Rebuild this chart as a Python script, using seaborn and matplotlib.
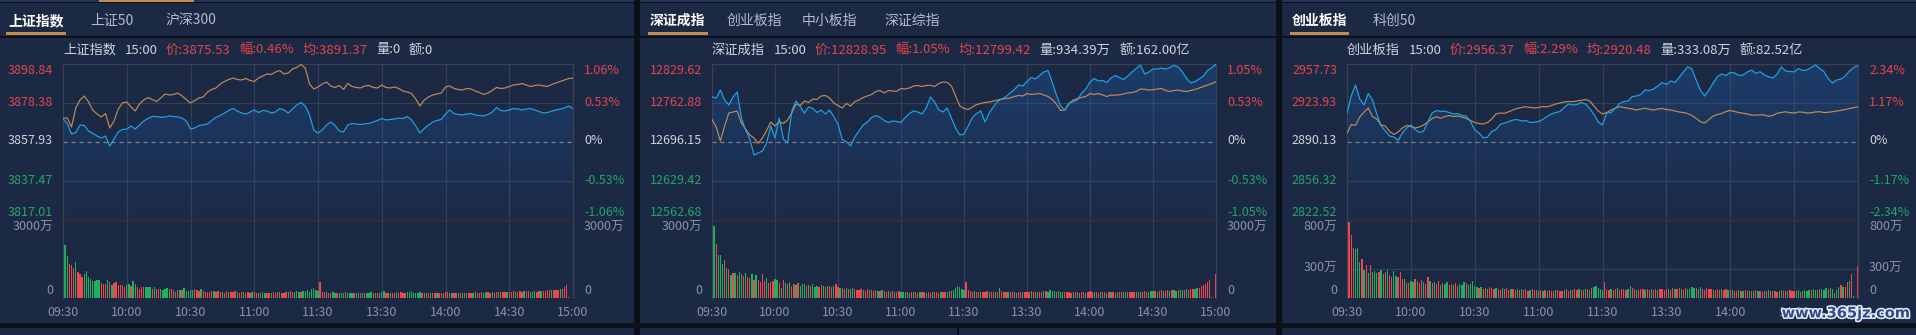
import numpy as np
import matplotlib
matplotlib.use("Agg")
import matplotlib.pyplot as plt
import seaborn as sns
from matplotlib.patches import Rectangle, Polygon
import matplotlib.patheffects as pe

sns.set_theme(style="dark")
plt.rcParams['font.family'] = ['Noto Sans CJK SC', 'DejaVu Sans']
plt.rcParams['axes.unicode_minus'] = False

# ---------------- data ----------------
time_labels = ["09:30", "10:00", "10:30", "11:00", "11:30", "13:30", "14:00", "14:30", "15:00"]

# panel 1 : 上证指数
p1_tabs = ["上证指数", "上证50", "沪深300"]
p1_name = "上证指数"
p1_prev = 3857.93
p1_left_ticks = ["3898.84", "3878.38", "3857.93", "3837.47", "3817.01"]
p1_right_ticks = ["1.06%", "0.53%", "0%", "-0.53%", "-1.06%"]
p1_vol_ticks = ["3000万", "0"]
p1_vol_max = 3000
p1_qty = "0"
p1_amt = "0"
p1_price = [
    3870.00, 3867.64, 3862.13, 3862.91, 3866.85, 3866.59, 3863.70, 3862.49, 3861.08, 3860.03,
    3861.08, 3855.83, 3859.50, 3863.18, 3864.49, 3864.75, 3866.32, 3864.75, 3866.85, 3868.95,
    3870.26, 3871.31, 3871.31, 3870.90, 3871.05, 3871.57, 3871.31, 3871.05, 3870.52, 3868.95,
    3864.75, 3865.30, 3866.59, 3866.85, 3867.37, 3869.21, 3870.78, 3871.83, 3873.14, 3874.45,
    3875.50, 3874.19, 3873.14, 3872.62, 3873.67, 3874.72, 3873.41, 3874.45, 3874.19, 3873.14,
    3873.67, 3875.50, 3874.72, 3873.14, 3875.24, 3877.34, 3878.65, 3876.82, 3872.09, 3864.23,
    3862.65, 3864.23, 3866.85, 3868.42, 3866.59, 3863.70, 3863.18, 3866.85, 3867.64, 3867.37,
    3867.10, 3867.50, 3867.64, 3868.42, 3869.21, 3870.26, 3869.47, 3869.73, 3870.00, 3870.52,
    3870.20, 3871.31, 3869.47, 3866.32, 3862.65, 3865.01, 3866.85, 3868.42, 3869.21, 3869.73,
    3872.62, 3874.72, 3872.88, 3872.36, 3872.09, 3872.62, 3872.88, 3872.09, 3871.83, 3871.57,
    3872.36, 3873.67, 3876.03, 3874.45, 3874.20, 3874.72, 3875.50, 3875.24, 3874.72, 3875.24,
    3875.50, 3874.72, 3873.93, 3873.14, 3873.40, 3874.19, 3874.72, 3875.24, 3875.77, 3876.82,
    3875.53]
p1_avg = [
    3870.36, 3870.52, 3865.80, 3875.77, 3879.96, 3882.06, 3878.91, 3874.72, 3872.62, 3871.05,
    3872.88, 3865.27, 3868.95, 3875.24, 3878.39, 3878.91, 3876.29, 3874.19, 3877.86, 3879.96,
    3881.27, 3880.23, 3879.18, 3881.01, 3883.11, 3882.59, 3882.85, 3883.64, 3882.06, 3880.23,
    3878.39, 3879.70, 3881.01, 3881.54, 3884.16, 3885.47, 3886.26, 3888.36, 3889.67, 3890.72,
    3891.50, 3890.72, 3890.46, 3891.24, 3890.19, 3889.67, 3891.50, 3892.55, 3893.60, 3893.34,
    3894.65, 3895.44, 3893.60, 3894.13, 3896.23, 3897.01, 3898.59, 3896.75, 3888.36, 3885.73,
    3886.78, 3888.36, 3889.41, 3887.31, 3886.52, 3887.57, 3885.47, 3888.62, 3887.05, 3886.52,
    3886.26, 3887.31, 3887.57, 3886.52, 3886.26, 3887.83, 3886.52, 3886.26, 3886.78, 3886.00,
    3884.68, 3884.16, 3883.37, 3880.49, 3876.82, 3879.96, 3881.54, 3882.59, 3883.11, 3883.64,
    3886.78, 3887.31, 3886.00, 3885.47, 3885.21, 3886.00, 3885.73, 3884.68, 3883.90, 3882.85,
    3883.64, 3884.95, 3886.52, 3886.00, 3886.26, 3887.05, 3887.83, 3888.09, 3888.62, 3887.83,
    3887.05, 3887.57, 3887.83, 3887.31, 3887.05, 3888.09, 3888.88, 3889.67, 3890.46, 3891.24,
    3891.37]
p1_vol = [
    730, 2025, 1615, 1295, 1270, 1165, 1385, 1015, 935, 810,
    935, 1040, 810, 720, 655, 655, 680, 690, 590, 550,
    540, 680, 615, 515, 590, 615, 485, 500, 515, 410,
    500, 550, 460, 655, 540, 435, 360, 410, 435, 435,
    435, 435, 345, 425, 345, 345, 345, 310, 345, 385,
    335, 335, 310, 230, 310, 310, 310, 370, 270, 270,
    295, 295, 360, 310, 270, 345, 270, 245, 245, 245,
    255, 270, 220, 255, 250, 240, 210, 260, 230, 220,
    250, 270, 230, 210, 240, 220, 200, 230, 210, 240,
    220, 200, 190, 210, 230, 200, 180, 210, 190, 220,
    200, 230, 250, 210, 190, 220, 240, 260, 230, 250,
    270, 240, 220, 260, 280, 300, 250, 340, 380, 310,
    260, 600, 240, 220, 230, 200, 210, 220, 190, 200,
    210, 200, 190, 220, 200, 210, 180, 200, 190, 210,
    200, 190, 210, 180, 200, 220, 190, 210, 200, 180,
    230, 270, 200, 190, 210, 180, 200, 220, 190, 230,
    210, 200, 240, 220, 260, 190, 200, 210, 230, 200,
    190, 210, 200, 180, 200, 190, 210, 200, 180, 200,
    250, 220, 200, 210, 190, 200, 180, 210, 200, 190,
    200, 210, 180, 200, 220, 190, 210, 230, 200, 220,
    230, 210, 240, 200, 220, 250, 230, 240, 220, 250,
    250, 240, 260, 250, 240, 260, 250, 270, 260, 270,
    250, 240, 260, 250, 270, 260, 280, 270, 290, 300,
    290, 300, 310, 320, 340, 360, 420, 500, 30, 0,
    0]
p1_dir = ("rggrrrgrrr" "ggggggggrr" "rgrgrrrrrr" "ggrggrrrrg" "ggrgrrgggg"
          "grrgrgrggg" "ggrrrgrrrr" "rgrrrgrrgr" "rrgrrgrrrg" "rrgrggrrgr"
          "rrgrrrgrrg" "ggrggggggg" "grrrgrrggr" "gggrgggrgg" "rgrgggrrgr"
          "ggrrgrrgrr" "rrgggggggr" "grrgrrgrrg" "rrrgrrgrgr" "grrgrgrrgg"
          "rrgrrgrrrg" "rrrgrrrgrr" "gggrrgrrrr" "grrrgrrrgr" "r")

# panel 2 : 深证成指
p2_tabs = ["深证成指", "创业板指", "中小板指", "深证综指"]
p2_name = "深证成指"
p2_prev = 12696.15
p2_left_ticks = ["12829.62", "12762.88", "12696.15", "12629.42", "12562.68"]
p2_right_ticks = ["1.05%", "0.53%", "0%", "-0.53%", "-1.05%"]
p2_vol_ticks = ["3000万", "0"]
p2_vol_max = 3000
p2_qty = "934.39万"
p2_amt = "162.00亿"
p2_price = [
    12773.67, 12771.44, 12785.13, 12768.02, 12759.46, 12773.15, 12781.71, 12737.22, 12716.68, 12701.28,
    12673.90, 12677.33, 12680.75, 12694.44, 12723.53, 12702.99, 12737.22, 12701.28, 12694.44, 12749.20,
    12766.31, 12756.90, 12745.77, 12756.04, 12753.48, 12746.63, 12750.91, 12744.06, 12750.91, 12739.44,
    12726.95, 12700.43, 12696.66, 12689.31, 12704.71, 12714.97, 12725.24, 12730.37, 12738.07, 12741.50,
    12738.07, 12732.94, 12729.52, 12732.09, 12731.23, 12729.52, 12738.07, 12744.92, 12749.20, 12747.49,
    12744.06, 12754.33, 12773.15, 12764.60, 12750.91, 12747.49, 12754.33, 12737.22, 12720.11, 12708.13,
    12709.84, 12723.53, 12738.07, 12744.92, 12749.20, 12730.37, 12745.77, 12756.04, 12765.45, 12769.73,
    12774.01, 12780.00, 12785.99, 12793.69, 12791.98, 12799.68, 12806.52, 12803.96, 12809.94, 12815.93,
    12818.50, 12798.82, 12776.58, 12757.75, 12750.91, 12762.03, 12765.45, 12768.02, 12780.00, 12786.84,
    12798.82, 12804.81, 12800.53, 12801.39, 12797.97, 12805.67, 12809.94, 12806.52, 12803.10, 12809.09,
    12815.93, 12821.92, 12827.91, 12812.51, 12815.93, 12821.07, 12821.07, 12822.78, 12821.07, 12823.63,
    12827.06, 12824.49, 12815.93, 12804.81, 12797.11, 12799.68, 12803.96, 12809.09, 12818.50, 12823.63,
    12828.95]
p2_avg = [
    12734.99, 12721.82, 12697.86, 12723.53, 12745.77, 12747.49, 12749.20, 12728.66, 12718.40, 12708.13,
    12702.99, 12693.93, 12702.99, 12715.83, 12730.37, 12723.53, 12731.23, 12727.81, 12733.80, 12745.77,
    12761.18, 12758.61, 12766.31, 12763.74, 12769.73, 12768.88, 12774.87, 12775.72, 12771.44, 12762.89,
    12758.61, 12754.33, 12762.03, 12757.75, 12765.45, 12768.02, 12772.30, 12774.87, 12777.43, 12782.57,
    12784.28, 12780.00, 12784.28, 12783.42, 12783.00, 12787.70, 12786.84, 12788.55, 12791.98, 12792.83,
    12791.12, 12792.83, 12793.30, 12791.12, 12796.26, 12798.82, 12797.97, 12791.98, 12774.87, 12757.75,
    12753.48, 12751.76, 12756.04, 12760.32, 12762.03, 12763.74, 12764.60, 12766.31, 12768.02, 12769.73,
    12770.59, 12771.44, 12774.01, 12775.72, 12774.87, 12779.14, 12777.43, 12778.29, 12779.14, 12776.58,
    12774.01, 12768.88, 12761.18, 12750.05, 12750.91, 12762.03, 12768.02, 12770.59, 12772.30, 12774.01,
    12779.14, 12777.43, 12779.14, 12776.58, 12774.01, 12776.58, 12776.20, 12776.90, 12778.29, 12780.00,
    12780.85, 12782.57, 12786.84, 12786.30, 12785.13, 12785.60, 12786.84, 12787.70, 12784.28, 12782.57,
    12784.28, 12785.13, 12783.42, 12782.57, 12784.28, 12785.99, 12788.55, 12791.12, 12793.69, 12796.26,
    12799.42]
p2_vol = [
    925, 2755, 2090, 1665, 1665, 1320, 1475, 1155, 1130, 870,
    960, 960, 870, 1000, 925, 835, 960, 795, 770, 925,
    705, 870, 705, 615, 925, 640, 770, 575, 615, 665,
    730, 705, 575, 385, 705, 560, 520, 600, 480, 540,
    500, 560, 470, 520, 540, 450, 500, 470, 520, 430,
    480, 440, 500, 460, 420, 480, 450, 430, 470, 550,
    420, 380, 400, 350, 370, 330, 360, 390, 340, 300,
    320, 350, 300, 280, 330, 290, 310, 270, 300, 280,
    260, 290, 270, 250, 280, 240, 270, 250, 230, 260,
    240, 220, 250, 230, 210, 240, 220, 230, 200, 240,
    220, 230, 210, 240, 200, 220, 250, 230, 210, 240,
    230, 250, 220, 260, 280, 300, 390, 450, 410, 350,
    300, 600, 320, 280, 250, 260, 240, 230, 250, 220,
    240, 260, 230, 220, 250, 240, 220, 385, 260, 240,
    230, 250, 220, 240, 230, 210, 240, 220, 230, 250,
    240, 220, 260, 230, 250, 220, 240, 230, 260, 280,
    250, 320, 280, 260, 240, 270, 230, 250, 240, 220,
    240, 210, 230, 220, 240, 210, 230, 220, 200, 230,
    260, 230, 220, 240, 210, 230, 220, 240, 210, 230,
    220, 240, 210, 230, 220, 240, 250, 230, 220, 240,
    230, 250, 240, 220, 250, 230, 260, 240, 250, 270,
    260, 280, 250, 270, 290, 260, 280, 300, 270, 290,
    300, 280, 310, 290, 320, 300, 330, 310, 340, 350,
    360, 380, 400, 450, 490, 530, 615, 705, 30, 0,
    910]
p2_dir = ("rgrgggrgrg" "rgrggrgrrg" "rgrrrrgrrr" "ggrgrgrgrr" "grgggrgrgg"
          "grrgrgrrgr" "rgrrgrggrr" "rrgrrrgrrg" "rgrrgrrgrr" "gggrgrgrrg"
          "rrgrrgrrrg" "rrggrggggg" "grrrrgrrgr" "rrgrrgrgrr" "rgrrrgrrgr"
          "rrgrrgrrgr" "ggggrgggrr" "rrgrrgrrgr" "rrgrrgrgrr" "grrgrrgrgr"
          "rrgrgrrrgg" "grgrrgrrgr" "ggrggrgrrr" "ggrrrrrrgr" "r")

# panel 3 : 创业板指
p3_tabs = ["创业板指", "科创50"]
p3_name = "创业板指"
p3_prev = 2890.13
p3_left_ticks = ["2957.73", "2923.93", "2890.13", "2856.32", "2822.52"]
p3_right_ticks = ["2.34%", "1.17%", "0%", "-1.17%", "-2.34%"]
p3_vol_ticks = ["800万", "300万", "0"]
p3_vol_max = 800
p3_vol_mid = 300
p3_qty = "333.08万"
p3_amt = "82.52亿"
p3_price = [
    2915.00, 2930.00, 2939.53, 2927.40, 2922.20, 2932.16, 2926.53, 2914.40, 2904.00, 2899.66,
    2895.33, 2894.46, 2891.43, 2897.93, 2902.26, 2904.86, 2900.96, 2898.36, 2899.66, 2907.90,
    2915.26, 2917.43, 2916.56, 2916.90, 2915.70, 2914.40, 2914.80, 2913.10, 2912.66, 2907.90,
    2900.53, 2897.93, 2893.60, 2894.46, 2899.23, 2900.96, 2905.30, 2906.60, 2907.90, 2909.20,
    2909.60, 2908.33, 2908.70, 2907.03, 2907.40, 2907.90, 2909.63, 2912.23, 2914.40, 2915.70,
    2916.56, 2920.03, 2923.06, 2922.20, 2922.63, 2924.36, 2923.06, 2919.16, 2913.96, 2907.46,
    2904.86, 2915.26, 2915.70, 2919.16, 2923.50, 2925.23, 2925.66, 2929.56, 2930.00, 2931.30,
    2935.20, 2934.76, 2936.07, 2938.67, 2941.70, 2939.97, 2943.00, 2941.70, 2946.03, 2950.80,
    2955.31, 2953.40, 2943.87, 2934.76, 2930.00, 2935.20, 2941.27, 2946.90, 2949.07, 2947.77,
    2950.37, 2949.93, 2947.77, 2948.20, 2950.80, 2952.53, 2949.67, 2951.06, 2948.20, 2946.64,
    2945.60, 2949.07, 2955.13, 2951.67, 2951.20, 2950.90, 2953.83, 2952.10, 2952.50, 2954.70,
    2956.87, 2954.00, 2951.06, 2945.16, 2941.27, 2943.87, 2944.73, 2947.33, 2951.67, 2954.70,
    2956.37]
p3_avg = [
    2897.67, 2905.30, 2904.43, 2911.80, 2916.13, 2919.60, 2912.06, 2910.06, 2904.86, 2904.00,
    2899.23, 2896.63, 2898.80, 2902.26, 2904.43, 2903.56, 2902.26, 2903.13, 2904.86, 2907.46,
    2910.50, 2912.06, 2910.67, 2912.23, 2913.10, 2912.23, 2912.66, 2911.80, 2910.50, 2908.76,
    2907.03, 2906.16, 2905.73, 2907.03, 2910.06, 2914.40, 2915.26, 2915.00, 2916.39, 2917.86,
    2919.34, 2920.03, 2920.72, 2920.03, 2919.60, 2920.03, 2920.90, 2920.60, 2921.76, 2923.06,
    2923.93, 2924.80, 2925.23, 2925.06, 2925.66, 2926.27, 2926.96, 2925.66, 2921.33, 2917.00,
    2914.40, 2915.70, 2917.86, 2919.60, 2920.72, 2920.03, 2919.34, 2918.73, 2917.86, 2918.73,
    2919.34, 2918.47, 2917.86, 2918.73, 2919.16, 2918.30, 2917.86, 2917.00, 2916.13, 2915.70,
    2914.83, 2913.10, 2910.50, 2907.72, 2906.60, 2909.63, 2912.66, 2913.96, 2914.83, 2916.56,
    2917.43, 2916.56, 2915.70, 2915.00, 2914.40, 2913.53, 2913.30, 2913.70, 2913.53, 2912.40,
    2913.10, 2915.00, 2915.70, 2916.30, 2915.52, 2915.26, 2916.13, 2915.96, 2915.26, 2915.50,
    2916.13, 2916.39, 2915.70, 2915.87, 2916.39, 2917.00, 2917.60, 2918.30, 2919.16, 2920.03,
    2920.48]
p3_vol = [
    233, 783, 650, 517, 500, 517, 367, 400, 290, 343,
    260, 340, 267, 273, 260, 267, 283, 250, 267, 283,
    233, 217, 277, 227, 217, 267, 200, 190, 150, 157,
    177, 160, 193, 170, 150, 183, 160, 140, 217, 170,
    150, 160, 140, 170, 130, 150, 140, 160, 135, 145,
    130, 150, 120, 140, 135, 160, 150, 130, 140, 170,
    120, 110, 100, 115, 90, 105, 95, 110, 100, 90,
    100, 95, 85, 105, 90, 100, 85, 95, 90, 80,
    90, 85, 95, 80, 90, 75, 85, 90, 80, 85,
    75, 80, 70, 85, 75, 80, 70, 75, 80, 85,
    75, 70, 80, 90, 75, 85, 80, 95, 85, 90,
    80, 85, 90, 95, 85, 100, 110, 123, 105, 90,
    80, 167, 90, 85, 95, 80, 90, 100, 85, 95,
    90, 85, 95, 123, 100, 90, 85, 80, 95, 90,
    85, 90, 80, 95, 85, 90, 80, 95, 90, 85,
    90, 95, 85, 100, 90, 95, 105, 90, 85, 100,
    95, 90, 117, 100, 105, 95, 110, 90, 85, 100,
    90, 95, 85, 80, 90, 85, 95, 80, 90, 85,
    80, 85, 75, 70, 80, 75, 70, 80, 75, 70,
    75, 70, 80, 75, 70, 65, 75, 70, 80, 75,
    70, 75, 65, 70, 80, 75, 70, 75, 80, 70,
    75, 70, 80, 60, 75, 80, 70, 85, 80, 90,
    85, 80, 90, 95, 85, 100, 90, 100, 95, 50,
    77, 110, 137, 110, 117, 160, 170, 243, 20, 0,
    327]
p3_dir = ("rrrrgggrgr" "grgggrggrg" "rrggrrrgrr" "ggrgrrgrrg" "rgrrgrggrr"
          "grrgggrggg" "ggrgrrgrrr" "grrgrrrgrr" "grgrrrgrrg" "rrgrgrrrgr"
          "rrgrrgrrrg" "rrgrgrgggg" "grrrgrrgrr" "rrggrrgrrr" "grrgrrgrrr"
          "rgrrgrrgrr" "ggggrggrrr" "rrgrrrgrrg" "rgrrgrgrrg" "rgrgrrgrgr"
          "grrgrgrgrr" "rggrggggrg" "ggrgggrggr" "ggrgrrgrgg" "r")

watermark = "www.365jz.com"

# ---------------- style / layout ----------------
W, H = 1916, 335
GAP = "#0b1019"
PANEL = "#1b2944"
BLUE = "#1fa4e4"
ORANGE = "#c48b55"
BAR_RED = "#ee484d"
BAR_GREEN = "#1fb060"
LBL_RED = "#e2464c"
LBL_GREEN = "#1fa864"
LBL_WHITE = "#cfd4dc"
GRAY = "#8a93a5"
GRID = "#33405a"
BORDER = "#3a4252"
TAB_GRAY = "#b4bccb"

fig = plt.figure(figsize=(W / 100, H / 100), dpi=100, facecolor=GAP)


def fx(x):
    return x / W


def fy(y):
    return 1 - y / H


def rect(x0, y0, x1, y1, color, z=-10):
    fig.add_artist(Rectangle((fx(x0), fy(y1)), (x1 - x0) / W, (y1 - y0) / H,
                             transform=fig.transFigure, facecolor=color,
                             edgecolor="none", zorder=z))


panels = [
    dict(tabs=p1_tabs, name=p1_name, prev=p1_prev, lt=p1_left_ticks, rt=p1_right_ticks,
         vt=p1_vol_ticks, vmax=p1_vol_max, vmid=None, qty=p1_qty, amt=p1_amt,
         price=p1_price, avg=p1_avg, vol=p1_vol, dirs=p1_dir,
         px0=0, px1=634, L=63, R=573,
         tab_x=[8, 90, 165], ul=(6, 66)),
    dict(tabs=p2_tabs, name=p2_name, prev=p2_prev, lt=p2_left_ticks, rt=p2_right_ticks,
         vt=p2_vol_ticks, vmax=p2_vol_max, vmid=None, qty=p2_qty, amt=p2_amt,
         price=p2_price, avg=p2_avg, vol=p2_vol, dirs=p2_dir,
         px0=640, px1=1276, L=712, R=1216,
         tab_x=[649.5, 726.5, 802, 884], ul=(647.5, 707.5)),
    dict(tabs=p3_tabs, name=p3_name, prev=p3_prev, lt=p3_left_ticks, rt=p3_right_ticks,
         vt=p3_vol_ticks, vmax=p3_vol_max, vmid=p3_vol_mid, qty=p3_qty, amt=p3_amt,
         price=p3_price, avg=p3_avg, vol=p3_vol, dirs=p3_dir,
         px0=1282, px1=1916, L=1347, R=1858,
         tab_x=[1291.5, 1373], ul=(1289.5, 1349)),
]

PT, PB, VB = 64, 220, 298
renderer = fig.canvas.get_renderer()

# bottom strip (next row of panels)
for p in panels:
    rect(p["px0"], 328, p["px1"], 335, PANEL)
rect(957, 328, 959, 335, GAP, z=-9)

t2 = np.arange(0, 241, 2)
t1 = np.arange(0, 241)

for i, p in enumerate(panels):
    # panel background
    rect(p["px0"], 0, p["px1"], 2, "#22345a")
    rect(p["px0"], 3, p["px1"], 36, PANEL)
    rect(p["px0"], 38, p["px1"], 323, PANEL)
    if i == 0:
        rect(99, 0, 194, 2, ORANGE, z=-9)

    # tabs
    for j, tab in enumerate(p["tabs"]):
        fig.text(fx(p["tab_x"][j]), fy(21), tab, fontsize=10,
                 color="#ffffff" if j == 0 else TAB_GRAY,
                 fontweight="bold" if j == 0 else "normal",
                 ha="left", va="center")
    rect(p["ul"][0], 32, p["ul"][1], 34.5, ORANGE, z=5)

    price = np.array(p["price"])
    avg = np.array(p["avg"])
    last, mean_last = price[-1], avg[-1]
    chg = (last - p["prev"]) / p["prev"] * 100

    # info line
    parts = [(p["name"], LBL_WHITE), ("15:00", LBL_WHITE),
             (f"价:{last:.2f}", LBL_RED), (f"幅:{chg:.2f}%", LBL_RED),
             (f"均:{mean_last:.2f}", LBL_RED),
             (f"量:{p['qty']}", LBL_WHITE), (f"额:{p['amt']}", LBL_WHITE)]
    x = p["L"]
    for s, c in parts:
        t = fig.text(fx(x), fy(50), s, fontsize=9.5, color=c, ha="left", va="center")
        bb = t.get_window_extent(renderer)
        x = bb.x1 + 8.5

    L, R = p["L"], p["R"]
    lo, hi = float(p["lt"][-1]), float(p["lt"][0])
    ticks = [float(v) for v in p["lt"]]

    ax = fig.add_axes([fx(L), fy(PB), (R - L) / W, (PB - PT) / H])
    axv = fig.add_axes([fx(L), fy(VB), (R - L) / W, (VB - PB) / H])
    for a in (ax, axv):
        a.set_facecolor("none")
        a.set_xticks([])
        a.set_yticks([])
        a.grid(False)
        for s in a.spines.values():
            s.set_visible(True)
            s.set_color(BORDER)
            s.set_linewidth(0.9)

    ax.spines["bottom"].set_color("#2a2e37")
    ax.spines["bottom"].set_linewidth(2.0)
    axv.spines["top"].set_visible(False)
    axv.spines["bottom"].set_visible(False)

    # gradient area under price line
    verts = [(0, lo)] + list(zip(t2, price)) + [(240, lo)]
    poly = Polygon(verts, closed=True, facecolor="none", edgecolor="none",
                   transform=ax.transData)
    ax.add_patch(poly)
    grad = np.zeros((256, 1, 4))
    grad[..., 0], grad[..., 1], grad[..., 2] = 0.13, 0.37, 0.68
    grad[:, 0, 3] = np.linspace(0.36, 0.02, 256)
    im = ax.imshow(grad, extent=[0, 240, lo, hi], aspect="auto", origin="upper", zorder=1)
    im.set_clip_path(poly)

    # grid
    for k in (1, 3):
        ax.axhline(ticks[k], color=GRID, lw=0.9, zorder=0.5)
    ax.axhline(ticks[2], color="#7d8597", lw=0.9, ls=(0, (3.2, 3.2)), zorder=2)
    for m in range(30, 240, 30):
        ax.axvline(m, color=GRID, lw=0.9, zorder=0.5)
        axv.axvline(m, color=GRID, lw=0.9, zorder=0.5)
    if p["vmid"] is not None:
        axv.axhline(p["vmid"], color=GRID, lw=0.9, zorder=0.5)

    sns.lineplot(x=t2, y=avg, ax=ax, color=ORANGE, linewidth=0.85, estimator=None,
                 legend=False, zorder=3)
    sns.lineplot(x=t2, y=price, ax=ax, color=BLUE, linewidth=0.85, estimator=None,
                 legend=False, zorder=4)
    ax.set_xlim(0, 240)
    ax.set_ylim(lo, hi)
    ax.set_xlabel("")
    ax.set_ylabel("")

    cols = [BAR_RED if d == "r" else BAR_GREEN for d in p["dirs"]]
    axv.bar(t1, p["vol"], width=0.6, color=cols, linewidth=0, zorder=2)
    axv.set_xlim(0, 240)
    axv.set_ylim(0, p["vmax"])

    # price axis labels
    ly = [71, 102, 141, 180, 212]
    lcol = [LBL_RED, LBL_RED, LBL_WHITE, LBL_GREEN, LBL_GREEN]
    for k in range(5):
        fig.text(fx(L - 10), fy(ly[k]), p["lt"][k], fontsize=9, color=lcol[k],
                 ha="right", va="center")
        fig.text(fx(R + 11), fy(ly[k]), p["rt"][k], fontsize=9, color=lcol[k],
                 ha="left", va="center")

    # volume axis labels
    vy = [227, 268, 291] if len(p["vt"]) == 3 else [227, 291]
    for k, lab in enumerate(p["vt"]):
        fig.text(fx(L - 10), fy(vy[k]), lab, fontsize=9, color=GRAY, ha="right", va="center")
        fig.text(fx(R + 11), fy(vy[k]), lab, fontsize=9, color=GRAY, ha="left", va="center")

    # time labels
    for k, lab in enumerate(time_labels):
        xx = L + (R - L) * k / 8
        fig.text(fx(xx), fy(312), lab, fontsize=9, color=GRAY, ha="center", va="center")

# watermark
fig.text(fx(1846), fy(313), watermark, fontsize=10.5, fontweight="bold",
         color="#2f4b8e", ha="center", va="center", family="DejaVu Sans",
         path_effects=[pe.withStroke(linewidth=2.2, foreground="#e8ecf5")], zorder=10)

fig.savefig("out.png", dpi=100, facecolor=GAP)
